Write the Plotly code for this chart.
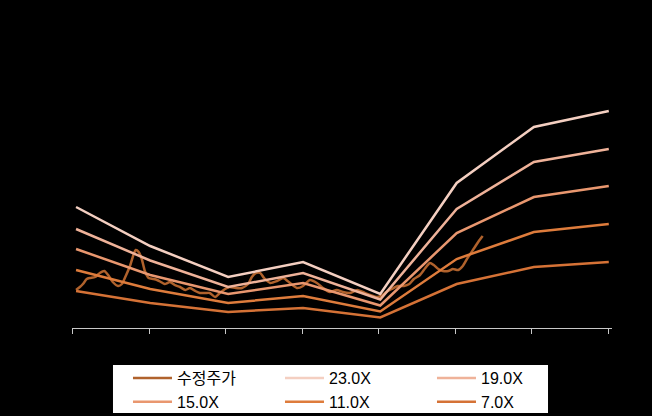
import plotly.graph_objects as go

# Year positions of the PER band points (decimal years)
band_x = [2017.04, 2018.01, 2019.03, 2020.01, 2021.02, 2022.02, 2023.03, 2024.01]

per_23 = [12100, 8200, 5100, 6600, 3400, 14500, 20100, 21700]
per_19 = [9900, 6750, 4100, 5500, 2850, 11900, 16600, 17900]
per_15 = [7900, 5300, 3400, 4500, 2250, 9500, 13100, 14200]
per_11 = [5800, 3900, 2500, 3200, 1650, 6900, 9600, 10400]
per_7 = [3700, 2500, 1600, 2000, 1050, 4400, 6100, 6600]

price_x = [2017.04, 2017.09, 2017.13, 2017.18, 2017.22, 2017.29, 2017.35, 2017.41, 2017.46,
           2017.52, 2017.59, 2017.64, 2017.69, 2017.75, 2017.79, 2017.82, 2017.86, 2017.90,
           2017.94, 2017.99, 2018.05, 2018.10, 2018.15, 2018.20, 2018.27, 2018.33, 2018.40,
           2018.47, 2018.53, 2018.60, 2018.66, 2018.73, 2018.79, 2018.86, 2018.92, 2018.99,
           2019.05, 2019.13, 2019.21, 2019.29, 2019.34, 2019.39, 2019.45, 2019.50, 2019.58,
           2019.67, 2019.75, 2019.84, 2019.93, 2020.01, 2020.10, 2020.19, 2020.27, 2020.36,
           2020.45, 2020.53, 2020.62, 2020.72, 2020.79, 2020.89, 2020.98, 2021.03, 2021.10,
           2021.17, 2021.25, 2021.33, 2021.40, 2021.46, 2021.54, 2021.61, 2021.67, 2021.72,
           2021.78, 2021.84, 2021.91, 2021.97, 2022.04, 2022.10, 2022.17, 2022.25, 2022.31,
           2022.36]
price_y = [3800, 4100, 4400, 4900, 5000, 5100, 5500, 5700, 5300,
           4600, 4200, 4400, 5200, 6300, 7300, 7800, 7600, 6900,
           5700, 5000, 4900, 4800, 4600, 4400, 4600, 4300, 4100,
           3800, 4000, 3700, 3500, 3500, 3500, 3100, 3500, 3900,
           4100, 4000, 4000, 4400, 5100, 5500, 5500, 5000, 4500,
           4700, 5000, 4500, 4000, 4200, 4800, 4500, 4000, 3600,
           3800, 3600, 3500, 3800, 3600, 3300, 3100, 3200, 3600,
           3900, 4200, 4200, 4400, 4900, 5300, 6000, 6500, 6300,
           5900, 5700, 5700, 5900, 5800, 6200, 7100, 8000, 8700,
           9200]

tick_years = [2017, 2018, 2019, 2020, 2021, 2022, 2023, 2024]

series = [
    ("수정주가", price_x, price_y, "#B0622C"),
    ("23.0X", band_x, per_23, "#F4CFC1"),
    ("19.0X", band_x, per_19, "#EFB299"),
    ("15.0X", band_x, per_15, "#E9976F"),
    ("11.0X", band_x, per_11, "#DE7C3C"),
    ("7.0X", band_x, per_7, "#D57236"),
]

fig = go.Figure()
for name, xs, ys, col in series:
    fig.add_trace(go.Scatter(x=xs, y=ys, name=name, mode="lines",
                             line=dict(color=col, width=2.5,
                                       shape="spline" if name == "수정주가" else "linear",
                                       smoothing=0.6)))

# white legend box
fig.add_shape(type="rect", xref="paper", yref="paper",
              x0=0.0759, x1=0.8815, y0=-0.276, y1=-0.120,
              fillcolor="white", line=dict(width=0), layer="above")

fig.update_layout(
    width=652, height=416,
    paper_bgcolor="black", plot_bgcolor="black",
    margin=dict(l=72, r=40, t=20, b=88, autoexpand=False),
    font=dict(family="Liberation Sans, Arial, Noto Sans CJK KR", size=16, color="black"),
    showlegend=True,
    legend=dict(orientation="h", xref="container", yref="container",
                x=0.1963, y=0.1322, xanchor="left", yanchor="top",
                bgcolor="rgba(0,0,0,0)", borderwidth=0,
                entrywidth=98, entrywidthmode="pixels", itemwidth=39,
                font=dict(family="Liberation Sans, Noto Sans CJK KR", size=16, color="black"),
                tracegroupgap=0),
    xaxis=dict(range=[2016.987, 2024.052], tickvals=tick_years, showticklabels=False,
               showgrid=False, zeroline=False, showline=True, linecolor="#C8C8C8",
               linewidth=1, ticks="outside", ticklen=5, tickcolor="#C8C8C8"),
    yaxis=dict(range=[0, 30800], showgrid=False, zeroline=False, showline=False,
               showticklabels=False, ticks=""),
)

fig.write_html("out.html")
